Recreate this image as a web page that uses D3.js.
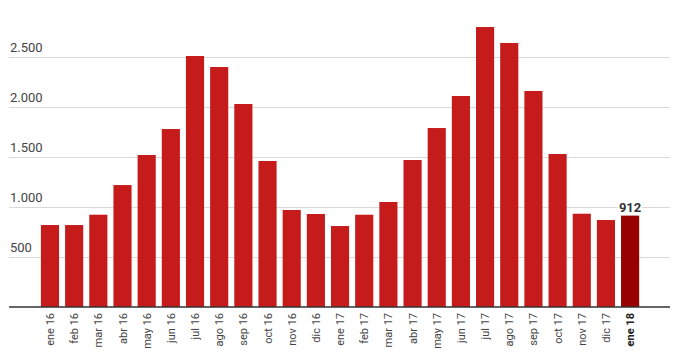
<!DOCTYPE html>
<html><head><meta charset="utf-8">
<script src="https://cdn.jsdelivr.net/npm/d3@7"></script>
<style>body{margin:0;background:#fff;}svg{display:block;font-family:Roboto,Arial,sans-serif;}</style>
</head><body><svg id="c" width="676" height="358"></svg>
<script>
const categories = ["ene 16","feb 16","mar 16","abr 16","may 16","jun 16","jul 16","ago 16","sep 16","oct 16","nov 16","dic 16","ene 17","feb 17","mar 17","abr 17","may 17","jun 17","jul 17","ago 17","sep 17","oct 17","nov 17","dic 17","ene 18"];
const values = [818,818,921,1217,1517,1776,2505,2395,2026,1457,968,928,808,921,1048,1467,1786,2106,2794,2635,2156,1527,931,868,912];
const yTicks = [500,1000,1500,2000,2500];
const highlight = "ene 18";

const svg = d3.select("#c");
const x = d3.scaleBand().domain(categories).range([37.9, 642.2]).paddingInner(0.25).paddingOuter(0.125);
const y = d3.scaleLinear().domain([0, 2500]).range([307, 56.5]);
const fmt = v => d3.format(",")(v).replace(/,/g, ".");

// gridlines
svg.append("g").selectAll("line").data(yTicks).join("line")
  .attr("x1", 9).attr("x2", 670)
  .attr("y1", d => Math.round(y(d)) + 0.5).attr("y2", d => Math.round(y(d)) + 0.5)
  .attr("stroke", "#d9d9d9").attr("stroke-width", 1);
svg.append("g").selectAll("text").data(yTicks).join("text")
  .attr("x", 10).attr("y", d => y(d) - 5)
  .attr("font-size", 13).attr("fill", "#444")
  .text(d => fmt(d));

// bars
svg.append("g").selectAll("rect").data(categories).join("rect")
  .attr("x", d => x(d)).attr("width", x.bandwidth())
  .attr("y", (d, i) => y(values[i])).attr("height", (d, i) => y(0) - y(values[i]))
  .attr("fill", d => d === highlight ? "#980000" : "#c61b1b");

// baseline
svg.append("line").attr("x1", 9).attr("x2", 670).attr("y1", 307).attr("y2", 307)
  .attr("stroke", "#333").attr("stroke-width", 1.3);

// x labels
svg.append("g").selectAll("text").data(categories).join("text")
  .attr("transform", d => `translate(${x(d) + x.bandwidth()/2 + 4},313) rotate(-90)`)
  .attr("text-anchor", "end").attr("font-size", 11)
  .attr("fill", d => d === highlight ? "#222" : "#444")
  .attr("font-weight", d => d === highlight ? "bold" : "normal")
  .text(d => d);

// value label
const hi = categories.indexOf(highlight);
const lbl = svg.append("text")
  .attr("x", x(highlight) + x.bandwidth()/2).attr("y", y(values[hi]) - 4)
  .attr("text-anchor", "middle").attr("font-size", 13).attr("font-weight", "bold")
  .attr("fill", "#333").attr("stroke", "#fff").attr("stroke-width", 4).attr("paint-order", "stroke")
  .text(values[hi]);
</script></body></html>
